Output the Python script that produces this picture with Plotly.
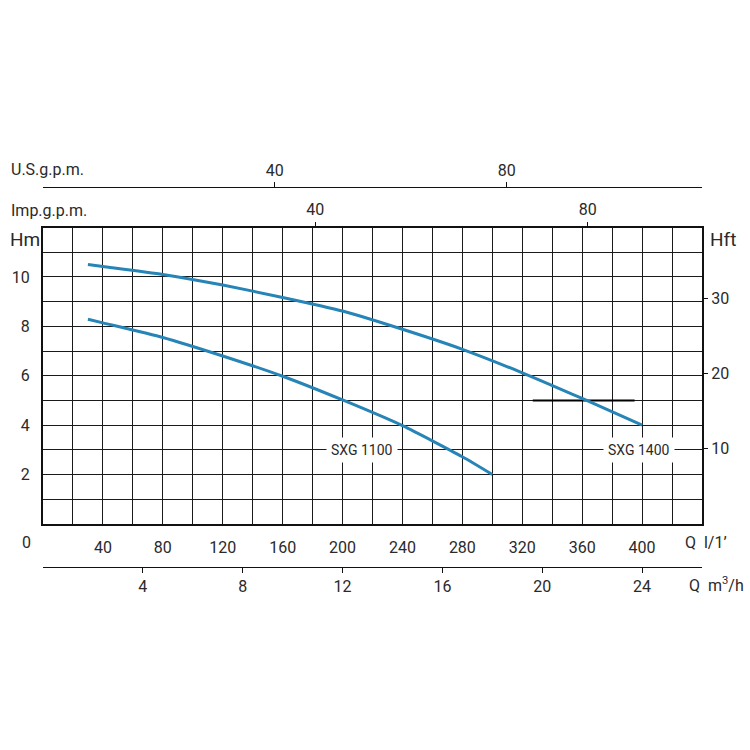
import plotly.graph_objects as go

# ---- data ----
q_1400 = [30, 40, 80, 120, 160, 200, 240, 280, 320, 360, 400]
h_1400 = [10.5, 10.42, 10.1, 9.67, 9.17, 8.62, 7.88, 7.07, 6.12, 5.08, 4.0]
q_1100 = [30, 40, 80, 120, 160, 200, 240, 280, 300]
h_1100 = [8.29, 8.14, 7.55, 6.8, 5.98, 5.02, 3.98, 2.72, 2.0]
ref_q = [327, 395]
ref_h = [5, 5]

q_ticks = [40, 80, 120, 160, 200, 240, 280, 320, 360, 400]
hm_ticks = [2, 4, 6, 8, 10]
hft_ticks = [10, 20, 30]
us_ticks = [40, 80]
imp_ticks = [40, 80]
m3h_ticks = [4, 8, 12, 16, 20, 24]

labels = [("SXG 1100", 213, 3), ("SXG 1400", 398, 3)]

Q_MAX = 440
H_MAX = 12
FT_PER_M = 1 / 0.3048
US_L = 3.87
IMP_L = 4.546

FONT = "Roboto"
BLUE = "rgb(38,132,182)"
TXT = "#2a2a2a"

W = 750
def px_x(p):
    return p / W
def px_y(p):
    return 1 - p / W

x0, x1 = px_x(43), px_x(702)
y0, y1 = px_y(524), px_y(227.5)

fig = go.Figure()

fig.add_trace(go.Scatter(x=ref_q, y=ref_h, mode="lines",
                         line=dict(color="black", width=2), showlegend=False,
                         hoverinfo="skip"))
fig.add_trace(go.Scatter(x=q_1400, y=h_1400, mode="lines", line_shape="spline",
                         line=dict(color=BLUE, width=3, smoothing=0.6),
                         showlegend=False, name="SXG 1400"))
fig.add_trace(go.Scatter(x=q_1100, y=h_1100, mode="lines", line_shape="spline",
                         line=dict(color=BLUE, width=3, smoothing=0.6),
                         showlegend=False, name="SXG 1100"))
# invisible trace to activate right axis
fig.add_trace(go.Scatter(x=[0], y=[0], yaxis="y2", mode="markers",
                         marker=dict(opacity=0), showlegend=False, hoverinfo="skip"))

fig.update_layout(
    width=750, height=750,
    margin=dict(l=0, r=0, t=0, b=0),
    paper_bgcolor="white", plot_bgcolor="white",
    font=dict(family=FONT, size=16, color=TXT),
    xaxis=dict(
        domain=[x0, x1], range=[0, Q_MAX], anchor="y",
        tickmode="array", tickvals=q_ticks, ticktext=[str(v) for v in q_ticks],
        ticks="", ticklabelstandoff=8,
        showline=True, linecolor="#111", linewidth=2, mirror=True,
        showgrid=False, zeroline=False,
        minor=dict(tickmode="linear", tick0=0, dtick=20, showgrid=True,
                   gridcolor="#1a1a1a", gridwidth=1.2, ticks=""),
        tickfont=dict(size=16),
    ),
    yaxis=dict(
        domain=[y0, y1], range=[0, H_MAX], anchor="x",
        tickmode="array", tickvals=hm_ticks, ticktext=[str(v) for v in hm_ticks],
        ticks="", ticklabelstandoff=8,
        showline=True, linecolor="#111", linewidth=2, mirror=True,
        showgrid=False, zeroline=False,
        minor=dict(tickmode="linear", tick0=0, dtick=1, showgrid=True,
                   gridcolor="#1a1a1a", gridwidth=1.2, ticks=""),
        tickfont=dict(size=16),
    ),
    yaxis2=dict(
        overlaying="y", side="right", anchor="x",
        range=[0, H_MAX * FT_PER_M],
        tickmode="array", tickvals=hft_ticks, ticktext=[str(v) for v in hft_ticks],
        ticks="outside", ticklen=5, tickcolor="#111", tickwidth=1,
        showgrid=False, zeroline=False, showline=False,
        tickfont=dict(size=16),
    ),
    xaxis2=dict(
        overlaying="x", side="top", anchor="y",
        range=[0, Q_MAX / IMP_L],
        tickmode="array", tickvals=imp_ticks, ticktext=[str(v) for v in imp_ticks],
        ticks="outside", ticklen=5, tickcolor="#111", tickwidth=1,
        showgrid=False, zeroline=False, showline=False,
        tickfont=dict(size=16),
    ),
    xaxis3=dict(
        overlaying="x", side="top", anchor="free", position=px_y(187.3),
        range=[0, Q_MAX / US_L],
        tickmode="array", tickvals=us_ticks, ticktext=[str(v) for v in us_ticks],
        ticks="outside", ticklen=5, tickcolor="#111", tickwidth=1,
        showline=True, linecolor="#111", linewidth=1.3,
        showgrid=False, zeroline=False,
        tickfont=dict(size=16),
    ),
    xaxis4=dict(
        overlaying="x", side="bottom", anchor="free", position=px_y(566.7),
        range=[0, Q_MAX * 60 / 1000],
        tickmode="array", tickvals=m3h_ticks, ticktext=[str(v) for v in m3h_ticks],
        ticks="outside", ticklen=5, tickcolor="#111", tickwidth=1,
        showline=True, linecolor="#111", linewidth=1.3,
        showgrid=False, zeroline=False,
        tickfont=dict(size=16),
    ),
)

# dummy traces to activate the extra x axes
fig.add_trace(go.Scatter(x=[0], y=[0], xaxis="x2", mode="markers",
                         marker=dict(opacity=0), showlegend=False, hoverinfo="skip"))
fig.add_trace(go.Scatter(x=[0], y=[0], xaxis="x3", mode="markers",
                         marker=dict(opacity=0), showlegend=False, hoverinfo="skip"))
fig.add_trace(go.Scatter(x=[0], y=[0], xaxis="x4", mode="markers",
                         marker=dict(opacity=0), showlegend=False, hoverinfo="skip"))

for text, qx, hy in labels:
    fig.add_annotation(x=qx, y=hy, xref="x", yref="y", text=text, showarrow=False,
                       bgcolor="white", borderpad=4,
                       font=dict(family=FONT, size=14, color=TXT))

def paper_text(text, x, y, xanchor="left", size=16):
    fig.add_annotation(x=px_x(x), y=px_y(y), xref="paper", yref="paper", text=text,
                       showarrow=False, xanchor=xanchor, yanchor="middle",
                       font=dict(family=FONT, size=size, color=TXT))

paper_text("U.S.g.p.m.", 9, 169)
paper_text("Imp.g.p.m.", 9, 210)
paper_text("Hm", 8, 239, size=19)
paper_text("Hft", 708, 239, size=19)
paper_text("0", 26, 542, xanchor="center")
paper_text("Q  l/1’", 683, 542)
paper_text("Q  m<sup>3</sup>/h", 687, 584)

fig.write_html("out.html")
